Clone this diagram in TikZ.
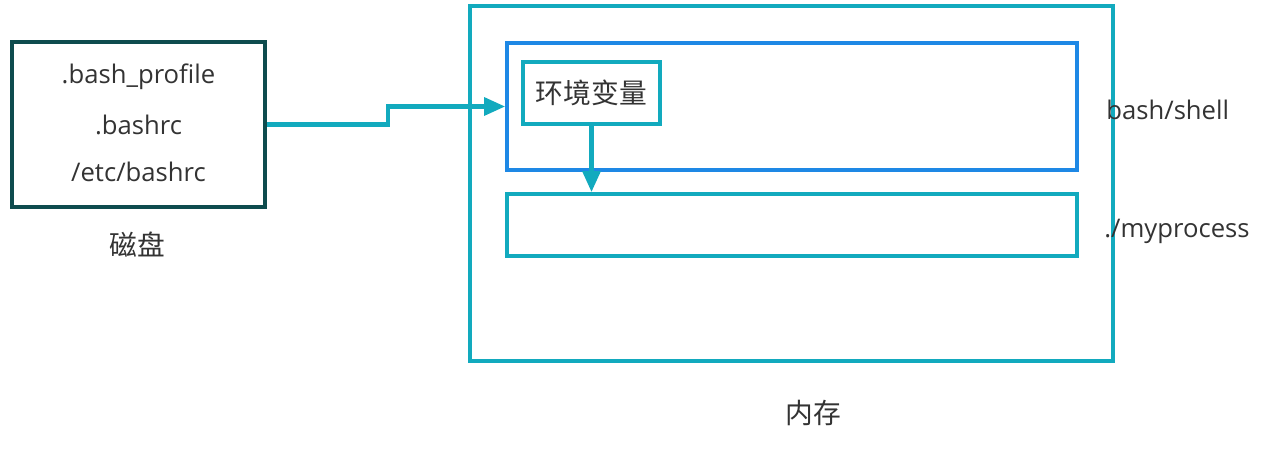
\documentclass[tikz,border=0pt]{standalone}
\usepackage{fontspec}
\setmainfont{Open Sans}
\newfontfamily\cjk{Noto Sans CJK SC}
\usepackage{xcolor}
\usetikzlibrary{arrows.meta, positioning}
\definecolor{diskgreen}{RGB}{14,76,78}
\definecolor{memteal}{RGB}{18,170,190}
\definecolor{shellblue}{RGB}{30,136,229}
\definecolor{txtgray}{RGB}{51,51,51}

\begin{document}
\begin{tikzpicture}[
    x=0.02cm, y=-0.02cm,
    box/.style={draw, minimum width=#1, inner sep=0pt, line width=2.1pt},
    lbl/.style={font=\fontsize{14.6}{17}\selectfont, text=txtgray, inner sep=0pt},
    cjklbl/.style={lbl, font=\cjk\fontsize{15.8}{18}\selectfont},
    arr/.style={-{Triangle[length=12pt, width=10pt]}, color=memteal, line width=2.5pt},
]
\useasboundingbox (0,0) rectangle (1273,452);
% disk side
\node[box=5.06cm, draw=diskgreen, minimum height=3.3cm] (disk) at (138.5,124.5) {};
\node[lbl] (f1) at (138.5,77) {.bash\_profile};
\node[lbl] (f2) at (138.5,125) {.bashrc};
\node[lbl] (f3) at (138.5,172) {/etc/bashrc};
\node[cjklbl] (disklbl) at (137,245) {磁盘};

% memory side
\node[box=12.86cm, draw=memteal, minimum height=7.1cm] (mem) at (791.5,183.5) {};
\node[box=11.4cm, draw=shellblue, minimum height=2.54cm] (bash) at (792,106.5) {};
\node[box=11.4cm, draw=memteal, minimum height=1.24cm] (proc) at (792,225) {};
\node[box=2.74cm, draw=memteal, minimum height=1.24cm, cjklbl] (env) at (591.5,93) {环境变量};
\node[lbl, anchor=west] (bashlbl) at (1106,110) {bash/shell};
\node[lbl, anchor=west] (proclbl) at (1104,231) {./myprocess};
\node[cjklbl] (memlbl) at (813,413) {内存};

\draw[arr] (disk.east) -- ++(121,0) |- (bash.west);
\draw[arr] (env.south) -- (proc.north -| env.south);
\end{tikzpicture}
\end{document}
